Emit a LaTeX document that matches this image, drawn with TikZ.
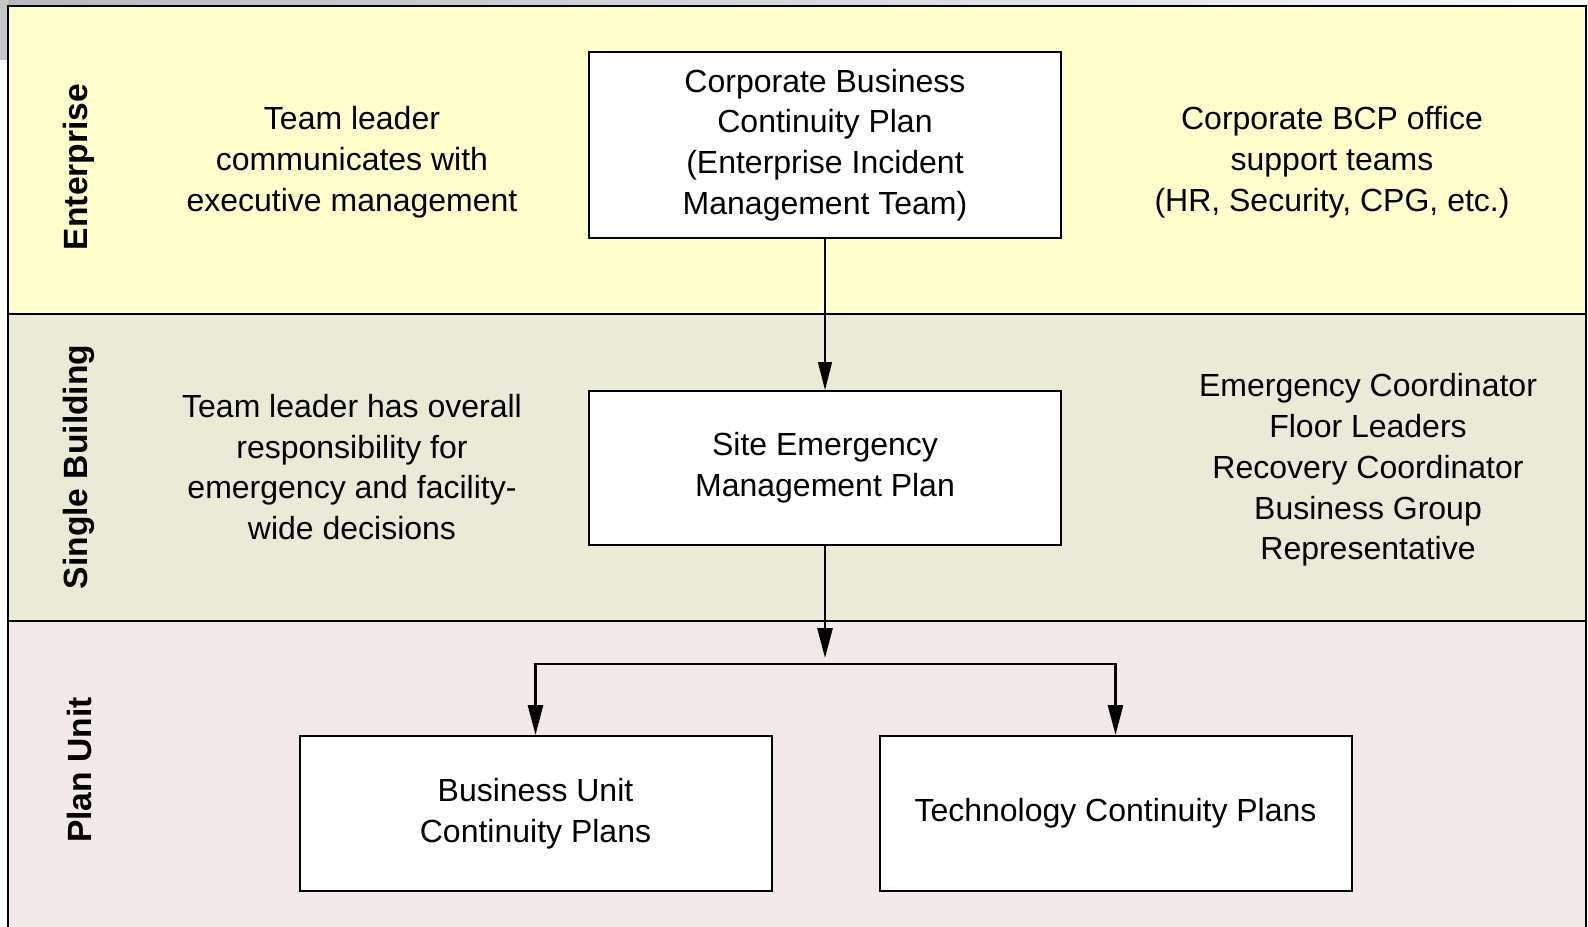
\documentclass[tikz,border=0pt]{standalone}
\usepackage{fontspec}
\setmainfont{Liberation Sans}
\usetikzlibrary{arrows.meta}
\definecolor{entyellow}{HTML}{FFFFCC}
\definecolor{bldgolive}{HTML}{EAEAD6}
\definecolor{unitpink}{HTML}{F3E9E8}
\newcommand\plantext{\fontsize{16}{20.4}\selectfont}
\newcommand\bandtext{\fontsize{16.8}{20}\selectfont\bfseries}
\tikzstyle{band}=[draw=black, line width=1.4pt]
\tikzstyle{plan}=[draw, line width=1pt, fill=white, align=center, inner sep=0pt, minimum width=236pt, font=\plantext]
\tikzstyle{note}=[align=center, inner sep=0pt, font=\plantext]
\tikzstyle{level}=[rotate=90, inner sep=0pt, font=\bandtext]
\tikzstyle{link}=[line width=0.6pt, -{Triangle[length=14pt,width=7pt]}]
\tikzstyle{flow}=[line width=1.4pt, -{Triangle[length=15pt,width=7.5pt]}]

\begin{document}
\begin{tikzpicture}[x=0.5pt, y=-0.5pt]
    \useasboundingbox (0,0) rectangle (1588,926);
    % backdrop and bands
    \shade [left color=gray!55, right color=gray!5] (0,0) rectangle (1588,6);
    \fill [gray!45] (0,0) rectangle (8,60);
    \fill [entyellow] (8,6) rectangle (1586,314);
    \fill [bldgolive] (8,314) rectangle (1586,621);
    \fill [unitpink] (8,621) rectangle (1586,940);
    \draw [band] (8,940) -- (8,6) -- (1586,6) -- (1586,940);
    \draw [band] (8,314) -- (1586,314);
    \draw [band] (8,621) -- (1586,621);
    \node [level] (ent) at (79,167) {Enterprise};
    \node [level] (bldg) at (79,467) {Single Building};
    \node [level] (unit) at (79,770) {Plan Unit};
    % plans
    \node [plan, minimum height=93pt] (corp) at (825,145) {Corporate Business\\Continuity Plan\\(Enterprise Incident\\Management Team)};
    \node [plan, minimum height=77pt] (site) at (825,468) {Site Emergency\\Management Plan};
    \node [plan, minimum height=77.5pt] (bucp) at (535.5,813.5) {Business Unit\\Continuity Plans};
    \node [plan, minimum height=77.5pt] (tcp) at (1115.5,813.5) {Technology Continuity Plans};
    % notes
    \node [note] (entleft) at (352,162) {Team leader\\communicates with\\executive management};
    \node [note] (entright) at (1332,162) {Corporate BCP office\\support teams\\(HR, Security, CPG, etc.)};
    \node [note] (bldgleft) at (352,467) {Team leader has overall\\responsibility for\\emergency and facility-\\wide decisions};
    \node [note] (bldgright) at (1368,470) {Emergency Coordinator\\Floor Leaders\\Recovery Coordinator\\Business Group\\Representative};
    % connectors
    \coordinate (split) at (825,664);
    \draw [link] (corp) -- (site);
    \draw [flow, shorten >=3pt] (site) -- (split);
    \draw [flow] (split) -| (bucp.north);
    \draw [flow] (split) -| (tcp.north);
\end{tikzpicture}
\end{document}
